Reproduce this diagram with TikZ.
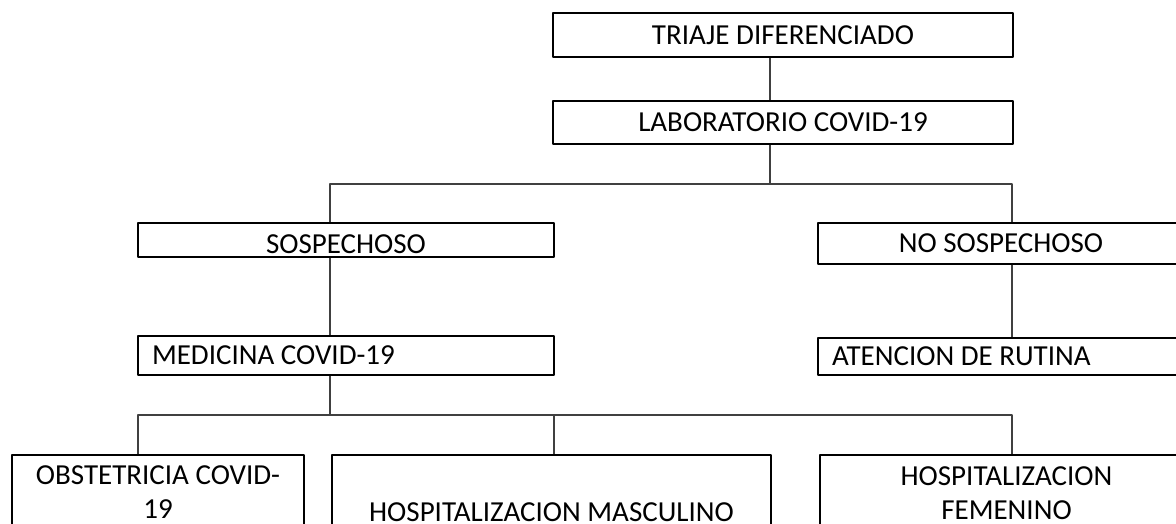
\documentclass[tikz,border=0pt]{standalone}
\usepackage{fontspec}
\setmainfont{Carlito}
\usetikzlibrary{calc}

\begin{document}
\begin{tikzpicture}[x=1pt, y=-1pt, line join=round,
		caja/.style={draw=black, line width=1.2pt, inner sep=0pt, align=center, font=\fontsize{29}{34}\selectfont},
		cajaizq/.style={caja, align=flush left, inner xsep=14pt, text width=#1},
		linea/.style={draw=black!75, line width=1.2pt}]
			\useasboundingbox (0,0) rectangle (1176,523);
			\fill[white] (0,0) rectangle (1176,523);
			\clip (0,0) rectangle (1176,523);

			\node[caja, minimum width=460pt, minimum height=44pt] (triaje) at (783,35) {TRIAJE DIFERENCIADO};
			\node[caja, minimum width=460pt, minimum height=43pt] (lab) at (783,122.5) {LABORATORIO COVID-19};
			\node[caja, minimum width=416pt, minimum height=34pt, text height=27pt] (sosp) at (346,240) {SOSPECHOSO};
			\node[caja, minimum width=366pt, minimum height=41pt] (nosp) at (1001,243.5) {NO SOSPECHOSO};
			\node[cajaizq=388pt, minimum height=39pt] (med) at (346,355.5) {MEDICINA COVID-19};
			\node[cajaizq=338pt, minimum height=37pt] (aten) at (1001,356.5) {ATENCION DE RUTINA};
			\node[caja, minimum width=292pt, minimum height=75pt] (obst) at (158,492.5) {OBSTETRICIA COVID-\\19};
			\node[caja, minimum width=439pt, minimum height=114pt] (masc) at (551.5,512) {HOSPITALIZACION MASCULINO};
			\node[caja, minimum width=373pt, minimum height=77pt] (feme) at (1006.5,493.5) {HOSPITALIZACION\\FEMENINO};

			\coordinate (colA) at (330,0);
			\coordinate (colB) at (770,0);
			\coordinate (colC) at (1012,0);
			\coordinate (colD) at (138,0);
			\coordinate (colE) at (554,0);
			\coordinate (busA) at (0,184);
			\coordinate (busB) at (0,415);

			\draw[linea] (triaje.south -| colB) -- (lab.north -| colB);
			\draw[linea] (lab.south -| colB) -- (colB |- busA);
			\draw[linea] (sosp.north -| colA) |- (busA -| colC) -- (nosp.north -| colC);
			\draw[linea] (sosp.south -| colA) -- (med.north -| colA);
			\draw[linea] (nosp.south -| colC) -- (aten.north -| colC);
			\draw[linea] (med.south -| colA) -- (colA |- busB);
			\draw[linea] (obst.north -| colD) |- (busB -| colC) -- (feme.north -| colC);
			\draw[linea] (colE |- busB) -- (masc.north -| colE);
		\end{tikzpicture}
\end{document}
